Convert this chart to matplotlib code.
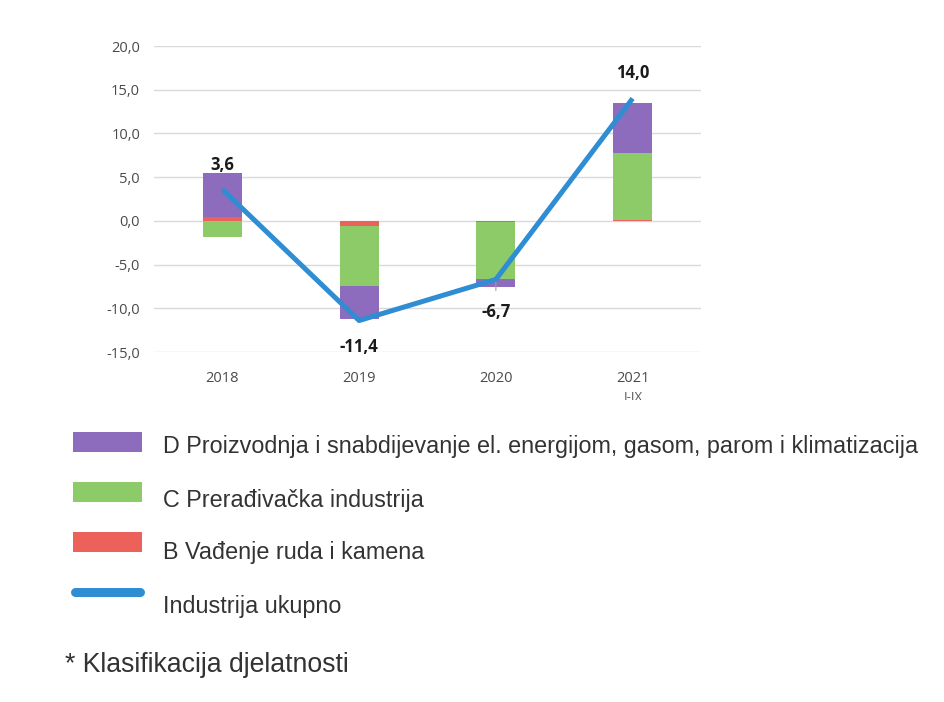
import matplotlib
matplotlib.use("Agg")
import matplotlib.pyplot as plt
import numpy as np
from matplotlib.patches import Rectangle
from matplotlib.lines import Line2D

# ---- data ----
years = ["2018", "2019", "2020", "2021"]
sec_B = [0.45, -0.6, -0.1, 0.15]     # B Vađenje ruda i kamena
sec_C = [-1.85, -6.85, -6.55, 7.65]  # C Prerađivačka industrija
sec_D = [5.0, -3.8, -0.95, 5.65]     # D Proizvodnja i snabdijevanje ...
total = [3.6, -11.4, -6.7, 14.0]     # Industrija ukupno
total_labels = ["3,6", "-11,4", "-6,7", "14,0"]
yticks = [-15, -10, -5, 0, 5, 10, 15, 20]
ytick_labels = ["-15,0", "-10,0", "-5,0", "0,0", "5,0", "10,0", "15,0", "20,0"]

name_B = "B Vađenje ruda i kamena"
name_C = "C Prerađivačka industrija"
name_D = "D Proizvodnja i snabdijevanje el. energijom, gasom, parom i klimatizacija"
name_T = "Industrija ukupno"
footnote = "* Klasifikacija djelatnosti"
sub_2021 = "I-IX"

col_B = "#EC625A"
col_C = "#8DCB68"
col_D = "#8D6BBD"
col_T = "#2E8DD3"

W, H = 945, 702
fig = plt.figure(figsize=(W / 100, H / 100), dpi=100)
fig.patch.set_facecolor("white")

def fx(px):
    return px / W

def fy(py):
    return 1 - py / H

ax = fig.add_axes([fx(154), fy(352), fx(701) - fx(154), fy(46) - fy(352)])
x = np.arange(len(years))
bw = 0.285

pos_bottom = np.zeros(len(years))
neg_bottom = np.zeros(len(years))
for vals, col in [(sec_B, col_B), (sec_C, col_C), (sec_D, col_D)]:
    vals = np.array(vals)
    bottoms = np.where(vals >= 0, pos_bottom, neg_bottom)
    ax.bar(x, vals, bw, bottom=bottoms, color=col, zorder=2)
    pos_bottom = pos_bottom + np.where(vals >= 0, vals, 0)
    neg_bottom = neg_bottom + np.where(vals < 0, vals, 0)

ax.plot(x, total, color=col_T, lw=3.6, zorder=3, solid_capstyle="butt")

offsets = [24, -26, -33, 25]
for xi, v, lab, off in zip(x, total, total_labels, offsets):
    ax.annotate(lab, (xi, v), xytext=(0, off * 0.72), textcoords="offset points",
                ha="center", va="center", fontsize=12, fontweight="bold",
                color="#1a1a1a", family=["Open Sans", "DejaVu Sans"], zorder=4)
# small leader line for 2020
ax.annotate("", (2, total[2]), xytext=(0, -10), textcoords="offset points",
            arrowprops=dict(arrowstyle="-", color="#a0a0a0", lw=0.8))

ax.set_xlim(-0.5, 3.5)
ax.set_ylim(-15, 20)
ax.set_yticks(yticks)
ax.set_yticklabels(ytick_labels)
ax.set_xticks(x)
ax.set_xticklabels(years)
ax.yaxis.grid(True, color="#d9d9d9", lw=1.0, zorder=0)
ax.set_axisbelow(True)
for s in ax.spines.values():
    s.set_visible(False)
ax.tick_params(axis="both", length=0, labelsize=10.5, labelcolor="#4a4a4a")
ax.tick_params(axis="y", pad=10)
ax.tick_params(axis="x", pad=14)
for t in ax.get_xticklabels() + ax.get_yticklabels():
    t.set_family(["Open Sans", "DejaVu Sans"])

# clipped sub-label under 2021 (cut off in original image)
clip_ax = fig.add_axes([0, fy(400), 1, fy(30) - fy(400)])
clip_ax.set_axis_off()
clip_ax.text(fx(633), fy(398), sub_2021, transform=fig.transFigure, ha="center",
             va="center", fontsize=9.5, color="#595959", clip_on=True,
             family=["Open Sans", "DejaVu Sans"])

# ---- legend (manual) ----
legend_items = [(name_D, col_D, "patch", 442), (name_C, col_C, "patch", 492),
                (name_B, col_B, "patch", 542), (name_T, col_T, "line", 592)]
text_y = [447, 501, 552, 606]
for (name, col, kind, cy), ty in zip(legend_items, text_y):
    if kind == "patch":
        fig.add_artist(Rectangle((fx(73), fy(cy + 10)), fx(142) - fx(73),
                                 fy(cy - 10) - fy(cy + 10), transform=fig.transFigure,
                                 facecolor=col, edgecolor="none"))
    else:
        fig.add_artist(Line2D([fx(75), fx(140)], [fy(cy), fy(cy)], transform=fig.transFigure,
                              color=col, lw=6.5, solid_capstyle="round"))
    fig.text(fx(163), fy(ty), name, ha="left", va="center", fontsize=16.8,
             color="#333333", family=["Liberation Sans", "DejaVu Sans"])

fig.text(fx(65), fy(665), footnote, ha="left", va="center", fontsize=19.2,
         color="#333333", family=["Liberation Sans", "DejaVu Sans"])

fig.savefig("out.png", dpi=100, facecolor="white")
